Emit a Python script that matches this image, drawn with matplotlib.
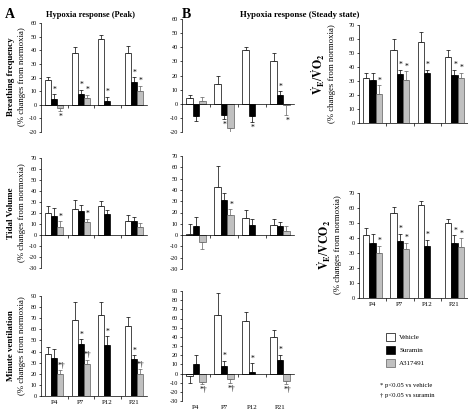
import numpy as np
from matplotlib import pyplot as plt
from matplotlib.patches import Patch

plt.rcParams['font.family'] = ['Liberation Serif', 'DejaVu Serif']
plt.rcParams['mathtext.fontset'] = 'stix'
plt.rcParams['axes.unicode_minus'] = False

W, H = 468, 409

groups = ['P4', 'P7', 'P12', 'P21']
series = ['Vehicle', 'Suramin', 'A317491']
nan = np.nan

# breathing frequency
bf_peak_veh = [18.5, 38, 48.5, 38]
bf_peak_veh_err = [2, 4.5, 3, 5]
bf_peak_sur = [4, 8, 3, 17]
bf_peak_sur_err = [4, 3, 3, 3.5]
bf_peak_a31 = [-2.5, 5, nan, 10]
bf_peak_a31_err = [2, 2.5, nan, 4]
bf_peak_sig = [['', '', '', ''], ['*', '*', '*', '*'], ['*', '*', '', '*']]

bf_ss_veh = [4, 14, 38, 30]
bf_ss_veh_err = [2.5, 6, 2, 6]
bf_ss_sur = [-8.5, -8, -9, 6]
bf_ss_sur_err = [4, 2.5, 4, 3]
bf_ss_a31 = [2, -17, nan, -1]
bf_ss_a31_err = [3, 4.5, nan, 7]
bf_ss_sig = [['', '', '', ''], ['', '*', '*', '*'], ['', '*', '', '*']]

vo2_veh = [32, 52, 58, 47]
vo2_veh_err = [4, 8, 7, 5]
vo2_sur = [31, 35, 36, 34]
vo2_sur_err = [5, 3, 2, 4]
vo2_a31 = [21, 31, nan, 32]
vo2_a31_err = [6, 6, nan, 4]
vo2_sig = [['', '', '', ''], ['', '*', '*', '*'], ['*', '*', '', '*']]

# tidal volume
vt_peak_veh = [20, 24, 26, 13]
vt_peak_veh_err = [6, 8, 5, 5]
vt_peak_sur = [17, 22, 19, 13]
vt_peak_sur_err = [8, 5, 4, 3]
vt_peak_a31 = [7.5, 12, nan, 7]
vt_peak_a31_err = [5, 3, nan, 4]
vt_peak_sig = [['', '', '', ''], ['', '', '', ''], ['*', '*', '', '']]

vt_ss_veh = [1, 43, 15, 9]
vt_ss_veh_err = [9, 18, 7, 5]
vt_ss_sur = [8, 31, 9, 8]
vt_ss_sur_err = [8, 6, 5, 4]
vt_ss_a31 = [-6, 18, nan, 4]
vt_ss_a31_err = [6, 5, nan, 4]
vt_ss_sig = [['', '', '', ''], ['', '', '', ''], ['', '*', '', '']]

vco2_veh = [42, 57, 62, 50]
vco2_veh_err = [5, 4, 3, 3]
vco2_sur = [36.5, 38, 35, 37]
vco2_sur_err = [6, 5, 4, 5]
vco2_a31 = [30, 33, nan, 34]
vco2_a31_err = [5, 4, nan, 6]
vco2_sig = [['', '', '', ''], ['', '*', '*', '*'], ['*', '*', '', '*']]

# minute ventilation
ve_peak_veh = [38, 68, 73, 63]
ve_peak_veh_err = [6, 17, 12, 8]
ve_peak_sur = [34, 47, 46, 33]
ve_peak_sur_err = [8, 4, 8, 4]
ve_peak_a31 = [20, 28.5, nan, 20]
ve_peak_a31_err = [3, 4, nan, 4]
ve_peak_sig = [['', '', '', ''], ['', '*', '*', '*'], ['*†', '*†', '', '*†']]

ve_ss_veh = [-2.5, 64, 57, 40]
ve_ss_veh_err = [8, 24, 10, 8]
ve_ss_sur = [10, 8, 2, 15]
ve_ss_sur_err = [10, 6, 9, 5.5]
ve_ss_a31 = [-9.5, -6, nan, -8]
ve_ss_a31_err = [2, 4, nan, 3]
ve_ss_sig = [['', '', '', ''], ['', '*', '*', '*'], ['*†', '*†', '', '*†']]

colors = ['white', 'black', '#c0c0c0']
edges = ['black', 'black', '#606060']
ecols = ['black', 'black', '#606060']


def box(x0, x1, ytop, ybot):
    return [x0 / W, 1 - ybot / H, (x1 - x0) / W, (ybot - ytop) / H]


def panel(fig, rect, ylim, data, sig, xlabels=False):
    ax = fig.add_axes(rect)
    bw = 0.23
    for k, (vals, errs) in enumerate(data):
        vals = np.array(vals, dtype=float)
        errs = np.array(errs, dtype=float)
        x = np.arange(4) + 0.5 + (k - 1) * bw
        ax.bar(x, vals, width=bw, color=colors[k], edgecolor=edges[k], linewidth=0.5, zorder=2)
        lo = np.where(vals < 0, errs, 0)
        hi = np.where(vals >= 0, errs, 0)
        ax.errorbar(x, vals, yerr=[lo, hi], fmt='none', ecolor=ecols[k],
                    elinewidth=0.5, capsize=1.3, capthick=0.5, zorder=1)
        for i in range(4):
            s = sig[k][i]
            if not s or np.isnan(vals[i]):
                continue
            if vals[i] >= 0:
                ax.annotate(s, (x[i], vals[i] + errs[i]), xytext=(0.5, 0.3),
                            textcoords='offset points', ha='center', va='bottom', fontsize=5.5)
            else:
                ax.annotate(s, (x[i], vals[i] - errs[i]), xytext=(0.5, -1.5),
                            textcoords='offset points', ha='center', va='top', fontsize=5.5)
    ax.set_xlim(0, 4)
    ax.set_ylim(*ylim)
    ax.set_yticks(np.arange(ylim[0], ylim[1] + 1, 10))
    ax.tick_params(axis='y', direction='out', length=1.5, width=0.5, labelsize=4.5, pad=1.5)
    ax.set_xticks([1, 2, 3])
    ax.set_xticklabels([])
    ax.tick_params(axis='x', direction='out', length=2.5, width=0.5)
    for sp in ['top', 'right']:
        ax.spines[sp].set_visible(False)
    ax.spines['left'].set_linewidth(0.5)
    ax.spines['bottom'].set_linewidth(0.5)
    ax.spines['bottom'].set_position(('data', 0))
    ax.patch.set_alpha(0)
    if xlabels:
        for i, g in enumerate(groups):
            ax.annotate(g, (i + 0.5, ylim[0]), xytext=(0, -3), textcoords='offset points',
                        ha='center', va='top', fontsize=5)
    return ax


fig = plt.figure(figsize=(W / 100, H / 100), dpi=100)

panel(fig, box(41, 147, 23, 132), (-20, 60),
      [(bf_peak_veh, bf_peak_veh_err), (bf_peak_sur, bf_peak_sur_err), (bf_peak_a31, bf_peak_a31_err)], bf_peak_sig)
panel(fig, box(182, 294, 19, 132), (-20, 60),
      [(bf_ss_veh, bf_ss_veh_err), (bf_ss_sur, bf_ss_sur_err), (bf_ss_a31, bf_ss_a31_err)], bf_ss_sig)
panel(fig, box(359, 468, 25, 123), (0, 70),
      [(vo2_veh, vo2_veh_err), (vo2_sur, vo2_sur_err), (vo2_a31, vo2_a31_err)], vo2_sig)

panel(fig, box(41, 147, 158, 268), (-30, 70),
      [(vt_peak_veh, vt_peak_veh_err), (vt_peak_sur, vt_peak_sur_err), (vt_peak_a31, vt_peak_a31_err)], vt_peak_sig)
panel(fig, box(182, 294, 156, 269), (-30, 70),
      [(vt_ss_veh, vt_ss_veh_err), (vt_ss_sur, vt_ss_sur_err), (vt_ss_a31, vt_ss_a31_err)], vt_ss_sig)
panel(fig, box(359, 468, 193, 298), (0, 70),
      [(vco2_veh, vco2_veh_err), (vco2_sur, vco2_sur_err), (vco2_a31, vco2_a31_err)], vco2_sig, xlabels=True)

panel(fig, box(41, 147, 296, 396), (0, 90),
      [(ve_peak_veh, ve_peak_veh_err), (ve_peak_sur, ve_peak_sur_err), (ve_peak_a31, ve_peak_a31_err)], ve_peak_sig, xlabels=True)
panel(fig, box(182, 294, 291, 401), (-30, 90),
      [(ve_ss_veh, ve_ss_veh_err), (ve_ss_sur, ve_ss_sur_err), (ve_ss_a31, ve_ss_a31_err)], ve_ss_sig, xlabels=True)

# titles and panel letters
fig.text(10 / W, 1 - 15 / H, 'A', fontsize=10, fontweight='bold', ha='center', va='center')
fig.text(186 / W, 1 - 15 / H, 'B', fontsize=10, fontweight='bold', ha='center', va='center')
fig.text(91 / W, 1 - 15 / H, 'Hypoxia response (Peak)', fontsize=6, fontweight='bold', ha='center', va='center')
fig.text(300 / W, 1 - 15 / H, 'Hypoxia response (Steady state)', fontsize=6.3, fontweight='bold', ha='center', va='center')

# y labels
sub = '(% changes from normoxia)'
for name, yc in [('Breathing frequency', 77), ('Tidal Volume', 213), ('Minute ventilation', 346)]:
    fig.text(11 / W, 1 - yc / H, name, fontsize=6.5, fontweight='bold', rotation=90, ha='center', va='center')
    fig.text(22 / W, 1 - yc / H, sub, fontsize=6.3, rotation=90, ha='center', va='center')

fig.text(318 / W, 1 - 74 / H, r'$\dot{\mathbf{V}}_\mathbf{E}/\dot{\mathbf{V}}\mathbf{O}_\mathbf{2}$',
         fontsize=8.5, rotation=90, ha='center', va='center')
fig.text(332 / W, 1 - 74 / H, sub, fontsize=6.3, rotation=90, ha='center', va='center')
fig.text(324 / W, 1 - 245 / H, r'$\dot{\mathbf{V}}_\mathbf{E}/\mathbf{VCO}_\mathbf{2}$',
         fontsize=8.5, rotation=90, ha='center', va='center')
fig.text(338 / W, 1 - 245 / H, sub, fontsize=6.3, rotation=90, ha='center', va='center')

# legend
handles = [Patch(facecolor=colors[k], edgecolor=edges[k], linewidth=0.5) for k in range(3)]
fig.legend(handles, series, loc='upper left', bbox_to_anchor=(386 / W, 1 - 333 / H),
           frameon=False, fontsize=5, handlelength=1.3, handleheight=1.3,
           labelspacing=0.8, handletextpad=0.6, borderpad=0, borderaxespad=0)
fig.text(380 / W, 1 - 386 / H, '* p<0.05 vs vehicle', fontsize=4.8, ha='left', va='center')
fig.text(380 / W, 1 - 396 / H, '† p<0.05 vs suramin', fontsize=4.8, ha='left', va='center')

fig.savefig('out.png', dpi=100, facecolor='white')
